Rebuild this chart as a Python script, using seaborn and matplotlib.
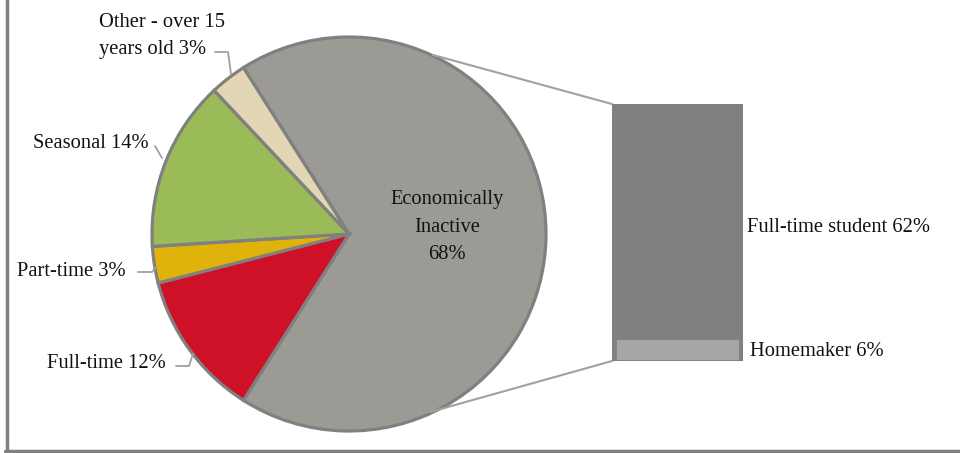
import textwrap
import matplotlib
matplotlib.use("Agg")
import matplotlib.pyplot as plt
import seaborn as sns
from matplotlib.lines import Line2D

# ---- data ----
pie_labels = ["Economically Inactive", "Full-time", "Part-time", "Seasonal", "Other - over 15 years old"]
pie_values = [68, 12, 3, 14, 3]
bar_labels = ["Full-time student", "Homemaker"]
bar_values = [62, 6]

pie_colors = ["#9b9a95", "#ce1126", "#e0b30a", "#9bbb59", "#e3d6b4"]
bar_colors = ["#808080", "#a6a6a6"]

sns.set_theme(style="white")
plt.rcParams["font.family"] = ["Liberation Serif", "DejaVu Serif"]
FS = 14.8
TC = "#111111"

W, H = 960, 453
fig = plt.figure(figsize=(W / 100, H / 100), dpi=100)
ax = fig.add_axes([0, 0, 1, 1])

def Y(y):
    return H - y

cx, cy, r = 349, Y(234), 197
wedges, _ = ax.pie(pie_values, colors=pie_colors, startangle=122.4, counterclock=False,
                   center=(cx, cy), radius=r,
                   wedgeprops=dict(edgecolor="#808080", linewidth=2.3))
ax.set_xlim(0, W)
ax.set_ylim(0, H)
ax.set_aspect("equal")
ax.axis("off")

# center label
ax.text(447, Y(227), "Economically\nInactive\n{}%".format(pie_values[0]), ha="center", va="center",
        fontsize=FS, color=TC, linespacing=1.62)

lead = dict(color="#a0a0a0", lw=1.3)
# other
ax.text(99, Y(36), textwrap.fill("{} {}%".format(pie_labels[4], pie_values[4]), 15), ha="left", va="center",
        fontsize=FS, color=TC, linespacing=1.62)
ax.plot([215, 228, 231], [Y(52), Y(52), Y(74)], **lead)
# seasonal
ax.text(33, Y(143), "{} {}%".format(pie_labels[3], pie_values[3]), ha="left", va="center",
        fontsize=FS, color=TC)
ax.plot([155, 162], [Y(146), Y(158)], **lead)
# part-time
ax.text(17, Y(271), "{} {}%".format(pie_labels[2], pie_values[2]), ha="left", va="center",
        fontsize=FS, color=TC)
ax.plot([138, 152, 156], [Y(272), Y(272), Y(267)], **lead)
# full-time
ax.text(47, Y(363), "{} {}%".format(pie_labels[1], pie_values[1]), ha="left", va="center",
        fontsize=FS, color=TC)
ax.plot([176, 189, 193], [Y(366), Y(366), Y(354)], **lead)

# connector lines
ax.plot([433, 612], [Y(55), Y(104)], color="#a0a0a0", lw=1.5)
ax.plot([430, 612], [Y(412), Y(361)], color="#a0a0a0", lw=1.5)

# bar of pie
bx0, bx1, by0, by1 = 612, 743, 104, 361
bax = fig.add_axes([bx0 / W, (H - by1) / H, (bx1 - bx0) / W, (by1 - by0) / H])
sns.barplot(x=[0], y=[sum(bar_values)], color=bar_colors[0], width=1, saturation=1,
            ax=bax, linewidth=0)
sns.barplot(x=[0], y=[bar_values[1]], color=bar_colors[1], width=0.96, saturation=1,
            ax=bax, edgecolor="#808080", linewidth=2)
bax.set_xlim(-0.5, 0.5)
bax.set_ylim(0, sum(bar_values))
bax.axis("off")

ax.text(747, Y(227), "{} {}%".format(bar_labels[0], bar_values[0]), ha="left", va="center",
        fontsize=FS, color=TC)
ax.text(750, Y(351), "{} {}%".format(bar_labels[1], bar_values[1]), ha="left", va="center",
        fontsize=FS, color=TC)

# chart border (left & bottom)
fig.add_artist(Line2D([6.5 / W, 6.5 / W], [Y(451) / H, 1], transform=fig.transFigure,
                      color="#808080", lw=2.5))
fig.add_artist(Line2D([5 / W, 1], [Y(451) / H, Y(451) / H], transform=fig.transFigure,
                      color="#808080", lw=2.5))

fig.savefig("out.png", dpi=100)
